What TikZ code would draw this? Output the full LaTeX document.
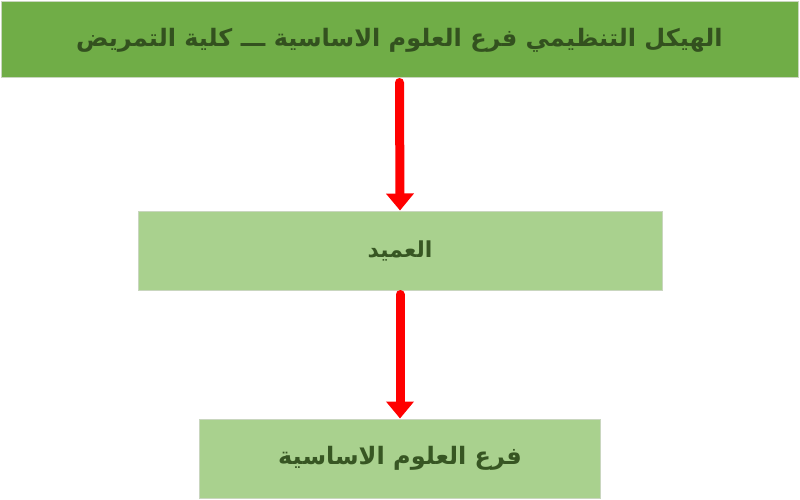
\documentclass[tikz,border=0pt]{standalone}
\usepackage{fontspec}
\newfontfamily\arabicfont[Script=Arabic]{DejaVu Sans}
\TeXXeTstate=1
\usetikzlibrary{arrows.meta}
\definecolor{topgreen}{HTML}{70AD47}
\definecolor{lightgreen}{HTML}{A9D18E}
\definecolor{textgreen}{HTML}{375623}
\definecolor{toptext}{HTML}{33511F}
\definecolor{edgegray}{HTML}{C9D6BF}
\definecolor{arrowred}{HTML}{FF0000}
\tikzset{
  box/.style={draw=edgegray, line width=1pt, fill=lightgreen, inner sep=0pt, text=textgreen},
  topbox/.style={box, fill=topgreen, text=toptext},
  redarrow/.style={draw=arrowred, line width=9pt, line cap=round,
    -{Triangle[width=27pt,length=17pt]}},
}
\begin{document}
\begin{tikzpicture}[x=1pt,y=-1pt]
\useasboundingbox (0,0) rectangle (800,500);
\node[topbox, minimum width=797pt, minimum height=76pt] (top) at (399.5,40)
  {\arabicfont\bfseries\fontsize{24}{29}\selectfont\beginR الهيكل التنظيمي فرع العلوم الاساسية ـــ كلية التمريض\endR};
\node[box, minimum width=524pt, minimum height=79pt] (dean) at (400,250.5)
  {\arabicfont\bfseries\fontsize{22}{26}\selectfont\beginR العميد\endR};
\node[box, minimum width=401pt, minimum height=79pt] (dept) at (400,458.5)
  {\arabicfont\bfseries\fontsize{24}{29}\selectfont\beginR فرع العلوم الاساسية\endR};
\draw[redarrow] ([yshift=-4pt]top.south) -- (dean.north);
\draw[redarrow] ([yshift=-4pt]dean.south) -- (dept.north);
\end{tikzpicture}
\end{document}
